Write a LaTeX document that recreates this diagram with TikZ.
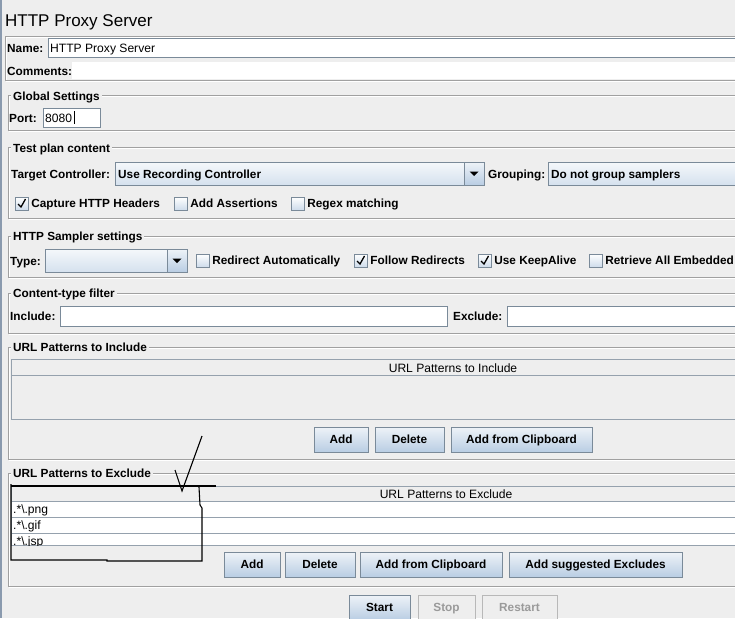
\documentclass[tikz,border=0pt]{standalone}
\usepackage{fontspec}
\setmainfont{Liberation Sans}
\usetikzlibrary{positioning}

\definecolor{uibg}{HTML}{EEEEEE}
\definecolor{etchgray}{HTML}{A0A0A0}
\definecolor{fieldline}{HTML}{7A8A99}
\definecolor{btntop}{HTML}{EEF3F8}
\definecolor{btnbot}{HTML}{B9CDE3}
\definecolor{greytext}{HTML}{9A9A9A}
\definecolor{winedge}{HTML}{8A9AAE}

\tikzstyle{boldtext}=[
    font=\fontsize{11.8}{13}\selectfont\bfseries,
    anchor=base west,
    inner sep=0pt,
    text height=8.4pt,
    text depth=0pt
]
\tikzstyle{plaintext}=[
    font=\fontsize{12.1}{13}\selectfont,
    anchor=base west,
    inner sep=0pt,
    text height=8.4pt,
    text depth=0pt
]
\tikzstyle{titletext}=[
    font=\fontsize{17}{20}\selectfont,
    anchor=base west,
    inner sep=0pt
]
\tikzstyle{grouptitle}=[
    boldtext,
    fill=uibg,
    inner xsep=2pt
]
\tikzstyle{groupframe}=[
    draw=etchgray,
    preaction={draw=white, transform canvas={xshift=1pt, yshift=-1pt}}
]
\tikzstyle{textfield}=[
    draw=fieldline,
    fill=white
]
\tikzstyle{tableframe}=[
    draw=fieldline!80
]
\tikzstyle{button}=[
    draw=fieldline,
    top color=btntop,
    bottom color=btnbot,
    font=\fontsize{11.8}{13}\selectfont\bfseries,
    minimum height=25pt,
    inner sep=0pt,
    text height=8.4pt,
    text depth=0pt
]
\tikzstyle{offbutton}=[
    button,
    draw=greytext!70,
    top color=uibg,
    bottom color=uibg,
    text=greytext
]
\tikzstyle{combobody}=[
    draw=fieldline,
    top color=btntop!60!white,
    bottom color=btnbot!60!white
]
\tikzstyle{combobtn}=[
    draw=fieldline,
    top color=btntop,
    bottom color=btnbot
]
\tikzstyle{checkbox}=[
    draw=fieldline,
    top color=white,
    bottom color=btnbot!70!white,
    minimum size=13pt,
    inner sep=0pt
]
\tikzstyle{tick}=[
    line width=1.3pt,
    black
]
\tikzstyle{handmark}=[
    line width=1.1pt,
    black
]

\begin{document}
\begin{tikzpicture}[x=1pt,y=-1pt]
    \useasboundingbox (0,0) rectangle (735,618);
    \clip (0,0) rectangle (735,618);
    \fill[uibg] (0,0) rectangle (735,618);
    \draw[winedge, line width=1.5pt] (1,0) -- (1,618);

    % TITLE
    \node (title) [titletext] at (5,27) {HTTP Proxy Server};

    % NAME PANEL
    \draw[groupframe] (5,36) rectangle (745,80);
    \draw[textfield] (48,38) rectangle (745,57);
    \node (name_lbl) [boldtext] at (7,52.5) {Name:};
    \node (name_val) [plaintext] at (50,52.5) {HTTP Proxy Server};
    \fill[white] (72,62) rectangle (745,79);
    \node (comm_lbl) [boldtext] at (7,75.5) {Comments:};

    % GLOBAL SETTINGS
    \draw[groupframe] (8,95) rectangle (745,130);
    \node (glob_ttl) [grouptitle] at (11,100) {Global Settings};
    \node (port_lbl) [boldtext] at (9,122.5) {Port:};
    \draw[textfield] (43,108) rectangle (100,127);
    \node (port_val) [plaintext] at (45,122.5) {8080};
    \draw (74.5,111) -- (74.5,124);

    % TEST PLAN CONTENT
    \draw[groupframe] (8,147) rectangle (745,218);
    \node (plan_ttl) [grouptitle] at (11,152) {Test plan content};
    \node (target_lbl) [boldtext] at (11,178) {Target Controller:};
    \draw[combobody] (115,162) rectangle (484,185);
    \draw[combobtn] (464,162) rectangle (484,185);
    \fill (469.5,171.5) -- (478.5,171.5) -- (474,176) -- cycle;
    \node (target_val) [boldtext] at (118,178) {Use Recording Controller};
    \node (group_lbl) [boldtext] at (488,178) {Grouping:};
    \draw[combobody] (548,162) rectangle (745,185);
    \node (group_val) [boldtext] at (551,178) {Do not group samplers};

    \node (cb_capture) [checkbox] at (21.5,203.5) {};
    \node (l_capture) [boldtext, anchor=west, right=3pt of cb_capture] {Capture HTTP Headers};
    \draw[tick] (cb_capture.center) ++(-3.5,0.5) -- ++(3,3) -- ++(4.5,-8);
    \node (cb_assert) [checkbox] at (180.5,203.5) {};
    \node (l_assert) [boldtext, anchor=west, right=3pt of cb_assert] {Add Assertions};
    \node (cb_regex) [checkbox] at (297.5,203.5) {};
    \node (l_regex) [boldtext, anchor=west, right=3pt of cb_regex] {Regex matching};

    % HTTP SAMPLER SETTINGS
    \draw[groupframe] (8,236) rectangle (745,277);
    \node (samp_ttl) [grouptitle] at (11,240) {HTTP Sampler settings};
    \node (type_lbl) [boldtext] at (10,265) {Type:};
    \draw[combobody] (45,249) rectangle (187,272);
    \draw[combobtn] (167,249) rectangle (187,272);
    \fill (172.5,258.5) -- (181.5,258.5) -- (177,263) -- cycle;

    \node (cb_redir) [checkbox] at (202.5,260.5) {};
    \node (l_redir) [boldtext, anchor=west, right=3pt of cb_redir] {Redirect Automatically};
    \node (cb_follow) [checkbox] at (360.5,260.5) {};
    \node (l_follow) [boldtext, anchor=west, right=3pt of cb_follow] {Follow Redirects};
    \draw[tick] (cb_follow.center) ++(-3.5,0.5) -- ++(3,3) -- ++(4.5,-8);
    \node (cb_alive) [checkbox] at (484.5,260.5) {};
    \node (l_alive) [boldtext, anchor=west, right=3pt of cb_alive] {Use KeepAlive};
    \draw[tick] (cb_alive.center) ++(-3.5,0.5) -- ++(3,3) -- ++(4.5,-8);
    \node (cb_embed) [checkbox] at (595.5,260.5) {};
    \node (l_embed) [boldtext, anchor=west, right=3pt of cb_embed] {Retrieve All Embedded};

    % CONTENT-TYPE FILTER
    \draw[groupframe] (8,293) rectangle (745,333);
    \node (ctype_ttl) [grouptitle] at (11,297.5) {Content-type filter};
    \node (incl_lbl) [boldtext] at (10,320.5) {Include:};
    \draw[textfield] (60,306) rectangle (447,326);
    \node (excl_lbl) [boldtext] at (453,320.5) {Exclude:};
    \draw[textfield] (507,306) rectangle (745,326);

    % URL PATTERNS TO INCLUDE
    \draw[groupframe] (8,347) rectangle (745,459);
    \node (inc_ttl) [grouptitle] at (11,351) {URL Patterns to Include};
    \draw[tableframe] (11,359) rectangle (745,419);
    \draw[tableframe] (11,375) -- (745,375);
    \node (inc_head) [plaintext, anchor=base] at (453,372.5) {URL Patterns to Include};
    \node (inc_add) [button, minimum width=54pt] at (341,439.5) {Add};
    \node (inc_del) [button, minimum width=69pt] at (409.5,439.5) {Delete};
    \node (inc_clip) [button, minimum width=141pt] at (521.5,439.5) {Add from Clipboard};

    % URL PATTERNS TO EXCLUDE
    \draw[groupframe] (8,473) rectangle (745,586);
    \node (exc_ttl) [grouptitle] at (11,477) {URL Patterns to Exclude};
    \fill[white] (11,501) rectangle (745,545);
    \draw[tableframe] (11,486) rectangle (745,545);
    \draw[tableframe] (11,501) -- (745,501);
    \draw[tableframe] (11,517) -- (745,517);
    \draw[tableframe] (11,533) -- (745,533);
    \node (exc_head) [plaintext, anchor=base] at (446,498.5) {URL Patterns to Exclude};
    \begin{scope}
        \clip (11,501) rectangle (745,545);
        \node (row_png) [plaintext] at (13,513.5) {.*\textbackslash.png};
        \node (row_gif) [plaintext] at (13,529.5) {.*\textbackslash.gif};
        \node (row_jsp) [plaintext] at (13,545.5) {.*\textbackslash.jsp};
    \end{scope}
    \node (exc_add) [button, minimum width=56pt] at (252,564.5) {Add};
    \node (exc_del) [button, minimum width=70pt] at (320,564.5) {Delete};
    \node (exc_clip) [button, minimum width=142pt] at (431,564.5) {Add from Clipboard};
    \node (exc_sugg) [button, minimum width=173pt] at (595.5,564.5) {Add suggested Excludes};

    % START / STOP / RESTART
    \node (start) [button, minimum width=61pt] at (379.5,607.5) {Start};
    \node (stop) [offbutton, minimum width=57pt] at (446.5,607.5) {Stop};
    \node (restart) [offbutton, minimum width=75pt] at (519.5,607.5) {Restart};

    % HAND DRAWN MARK
    \draw[handmark] (11,484) -- (11,560) -- (107,560) -- (107,561) -- (202,561)
        -- (202,508) -- (200,505) -- (199,487);
    \draw[handmark] (11,486) -- (216,486);
    \draw[handmark] (175,470) -- (182,491) -- (202,436);
\end{tikzpicture}
\end{document}
